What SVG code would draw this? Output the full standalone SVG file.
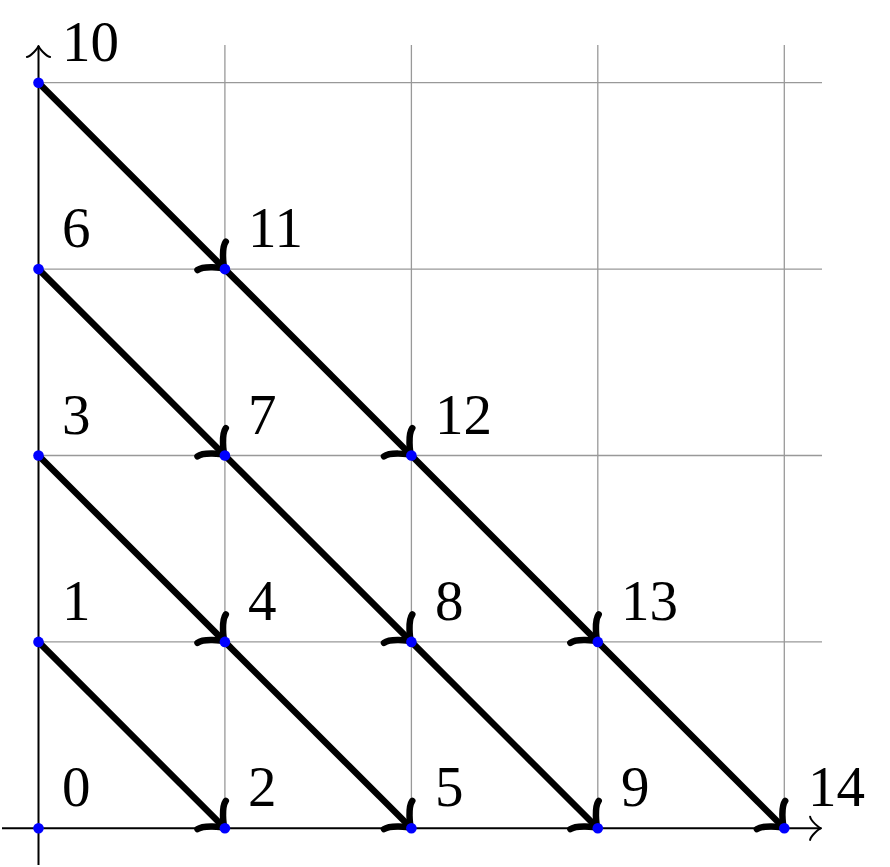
<svg xmlns="http://www.w3.org/2000/svg" width="890" height="867" viewBox="0 0 890 867">
<style>
.grid{stroke:#999;stroke-width:1.3;fill:none}
.axis{stroke:#000;stroke-width:2;fill:none;marker-end:url(#axtip)}
.arr{stroke:#000;stroke-width:6.5;fill:none;marker-end:url(#to)}
.dot{fill:#0000ff}
.lbl{font-family:"Liberation Serif","DejaVu Serif",serif;font-size:57px;fill:#000}
</style>
<defs>
<marker id="to" markerUnits="userSpaceOnUse" orient="auto" refX="0" refY="0" markerWidth="60" markerHeight="60" viewBox="-30 -30 60 60" overflow="visible">
<path d="M -18.75,20 C -17.5,12.5 -3.75,1.25 0,0 C -3.75,-1.25 -17.5,-12.5 -18.75,-20" fill="none" stroke="#000" stroke-width="6.5" stroke-linecap="round" stroke-linejoin="round"/>
</marker>
<marker id="axtip" markerUnits="userSpaceOnUse" orient="auto" refX="0" refY="0" markerWidth="30" markerHeight="30" viewBox="-15 -15 30 30" overflow="visible">
<path d="M -10.9,11.6 C -10.2,7.2 -2.2,0.7 0,0 C -2.2,-0.7 -10.2,-7.2 -10.9,-11.6" fill="none" stroke="#000" stroke-width="2" stroke-linecap="round" stroke-linejoin="round"/>
</marker>
</defs>
<g id="grid">
<line class="grid" x1="224.9" y1="45" x2="224.9" y2="828.3"/>
<line class="grid" x1="411.4" y1="45" x2="411.4" y2="828.3"/>
<line class="grid" x1="597.8" y1="45" x2="597.8" y2="828.3"/>
<line class="grid" x1="784.3" y1="45" x2="784.3" y2="828.3"/>
<line class="grid" x1="38.5" y1="641.9" x2="822" y2="641.9"/>
<line class="grid" x1="38.5" y1="455.5" x2="822" y2="455.5"/>
<line class="grid" x1="38.5" y1="269.1" x2="822" y2="269.1"/>
<line class="grid" x1="38.5" y1="82.7" x2="822" y2="82.7"/>
</g>
<g id="axes">
<line class="axis" x1="2" y1="828.3" x2="821" y2="828.3"/>
<line class="axis" x1="38.5" y1="865" x2="38.5" y2="46"/>
</g>
<g id="connectors">
<line class="arr" x1="38.5" y1="641.9" x2="224.9" y2="828.3"/>
<line class="arr" x1="38.5" y1="455.5" x2="224.9" y2="641.9"/>
<line class="arr" x1="224.9" y1="641.9" x2="411.4" y2="828.3"/>
<line class="arr" x1="38.5" y1="269.1" x2="224.9" y2="455.5"/>
<line class="arr" x1="224.9" y1="455.5" x2="411.4" y2="641.9"/>
<line class="arr" x1="411.4" y1="641.9" x2="597.8" y2="828.3"/>
<line class="arr" x1="38.5" y1="82.7" x2="224.9" y2="269.1"/>
<line class="arr" x1="224.9" y1="269.1" x2="411.4" y2="455.5"/>
<line class="arr" x1="411.4" y1="455.5" x2="597.8" y2="641.9"/>
<line class="arr" x1="597.8" y1="641.9" x2="784.3" y2="828.3"/>
</g>
<g id="n0"><circle class="dot" cx="38.5" cy="828.3" r="5.3"/><text class="lbl" x="62" y="806">0</text></g>
<g id="n1"><circle class="dot" cx="38.5" cy="641.9" r="5.3"/><text class="lbl" x="62" y="620">1</text></g>
<g id="n2"><circle class="dot" cx="224.9" cy="828.3" r="5.3"/><text class="lbl" x="248" y="806">2</text></g>
<g id="n3"><circle class="dot" cx="38.5" cy="455.5" r="5.3"/><text class="lbl" x="62" y="434">3</text></g>
<g id="n4"><circle class="dot" cx="224.9" cy="641.9" r="5.3"/><text class="lbl" x="248" y="620">4</text></g>
<g id="n5"><circle class="dot" cx="411.4" cy="828.3" r="5.3"/><text class="lbl" x="435" y="806">5</text></g>
<g id="n6"><circle class="dot" cx="38.5" cy="269.1" r="5.3"/><text class="lbl" x="62" y="247">6</text></g>
<g id="n7"><circle class="dot" cx="224.9" cy="455.5" r="5.3"/><text class="lbl" x="248" y="434">7</text></g>
<g id="n8"><circle class="dot" cx="411.4" cy="641.9" r="5.3"/><text class="lbl" x="435" y="620">8</text></g>
<g id="n9"><circle class="dot" cx="597.8" cy="828.3" r="5.3"/><text class="lbl" x="621" y="806">9</text></g>
<g id="n10"><circle class="dot" cx="38.5" cy="82.7" r="5.3"/><text class="lbl" x="62" y="61">10</text></g>
<g id="n11"><circle class="dot" cx="224.9" cy="269.1" r="5.3"/><text class="lbl" x="248" y="247">11</text></g>
<g id="n12"><circle class="dot" cx="411.4" cy="455.5" r="5.3"/><text class="lbl" x="435" y="434">12</text></g>
<g id="n13"><circle class="dot" cx="597.8" cy="641.9" r="5.3"/><text class="lbl" x="621" y="620">13</text></g>
<g id="n14"><circle class="dot" cx="784.3" cy="828.3" r="5.3"/><text class="lbl" x="808" y="806">14</text></g>
</svg>
